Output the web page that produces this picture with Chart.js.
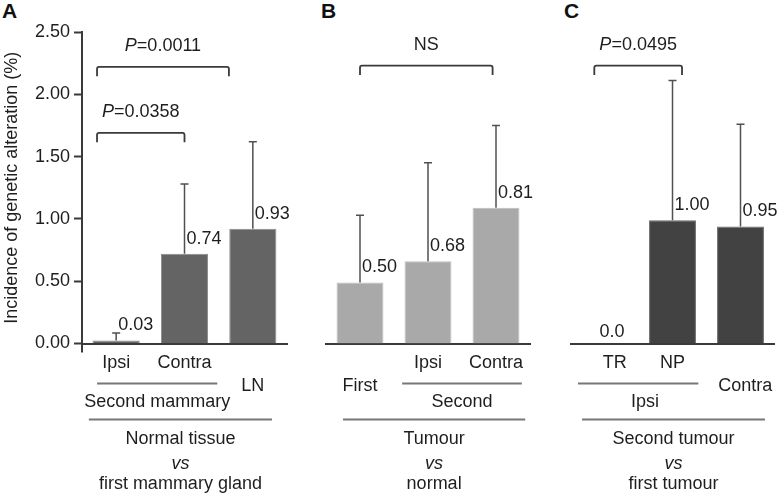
<!DOCTYPE html>
<html>
<head>
<meta charset="utf-8">
<script src="https://cdn.jsdelivr.net/npm/chart.js@4.4.1/dist/chart.umd.min.js"></script>
<style>
  body { margin: 0; background: #fff; width: 783px; height: 495px; position: relative; overflow: hidden; font-family: "Liberation Sans", Arial, sans-serif; }
  .panel { position: absolute; top: 0; height: 495px; }
  .letter { position: absolute; top: -1px; font-weight: bold; font-size: 21px; color: #111; }
</style>
</head>
<body>
<div class="letter" style="left:2px">A</div>
<div class="letter" style="left:321px">B</div>
<div class="letter" style="left:564px">C</div>
<div class="panel" style="left:0;width:292px"><canvas id="chartA"></canvas></div>
<div class="panel" style="left:292px;width:245px"><canvas id="chartB"></canvas></div>
<div class="panel" style="left:537px;width:246px"><canvas id="chartC"></canvas></div>
<script>
// 値は図から目視で読み取ったもの（棒の高さと表示ラベルは別管理）
const Y_TICKS = [0, 0.5, 1, 1.5, 2, 2.5];

const A_CATEGORIES = ['Ipsi', 'Contra', 'LN'];
const A_VALUES = [0.025, 0.72, 0.92];
const A_ERROR_TOPS = [0.085, 1.28, 1.62];
const A_LABELS = ['0.03', '0.74', '0.93'];

const B_CATEGORIES = ['First', 'Ipsi', 'Contra'];
const B_VALUES = [0.49, 0.66, 1.09];
const B_ERROR_TOPS = [1.03, 1.45, 1.75];
const B_LABELS = ['0.50', '0.68', '0.81'];

const C_CATEGORIES = ['TR', 'NP', 'Contra'];
const C_VALUES = [0, 0.99, 0.94];
const C_ERROR_TOPS = [null, 2.11, 1.76];
const C_LABELS = ['0.0', '1.00', '0.95'];

const FONT = '"Liberation Sans", Arial, sans-serif';
const FONT_SIZE = 18;
const TEXT_COLOR = '#1e1e1e';
const LINE_COLOR = '#777';

// 各パネルの注釈（ブラケット・下段ラベル）。x はカテゴリ番号基準。
// labelShift はカテゴリ名の横ずれ（元図で TR が少し右寄り）。
const PANELS = {
  A: {
    brackets: [
      { from: -0.28, to: 1.65, y: 2.22, drop: 0.075, p: true, text: '=0.0011' },
      { from: -0.28, to: 1.0, y: 1.69, drop: 0.075, p: true, text: '=0.0358' },
    ],
    topRow: [0, 1],
    midRow: [2],
    labelShift: [0, 0, 0],
    group: { from: -0.28, to: 1.48, text: 'Second mammary', shift: 0 },
    base: { from: -0.4, to: 2.28, lines: ['Normal tissue', 'vs', 'first mammary gland'] },
  },
  B: {
    brackets: [{ from: 0, to: 1.95, y: 2.23, drop: 0.075, p: false, text: 'NS' }],
    topRow: [1, 2],
    midRow: [0],
    labelShift: [0, 0, 0],
    group: { from: 0.62, to: 2.38, text: 'Second', shift: 0 },
    base: { from: -0.25, to: 2.43, lines: ['Tumour', 'vs', 'normal'] },
  },
  C: {
    brackets: [{ from: -0.15, to: 1.14, y: 2.23, drop: 0.075, p: true, text: '=0.0495' }],
    topRow: [0, 1],
    midRow: [2],
    labelShift: [0.15, 0, 0.07],
    group: { from: -0.39, to: 1.38, text: 'Ipsi', shift: 0.1 },
    base: { from: -0.33, to: 2.36, lines: ['Second tumour', 'vs', 'first tumour'] },
  },
};

function catPx(xScale, i) {
  const p0 = xScale.getPixelForTick(0);
  const p1 = xScale.getPixelForTick(1);
  return p0 + i * (p1 - p0);
}

const annotatePlugin = {
  id: 'annotate',
  afterDraw(chart, args, opts) {
    const { ctx, chartArea } = chart;
    const xs = chart.scales.x;
    const ys = chart.scales.y;
    const cfg = opts.panel;
    const bottom = chartArea.bottom;
    const regular = `${FONT_SIZE}px ${FONT}`;
    const italic = `italic ${FONT_SIZE}px ${FONT}`;
    ctx.save();

    // y軸の下への突き出し
    if (opts.showAxisStub) {
      ctx.strokeStyle = '#3a3a3a';
      ctx.lineWidth = 2;
      ctx.beginPath();
      ctx.moveTo(chartArea.left, bottom);
      ctx.lineTo(chartArea.left, bottom + 9);
      ctx.stroke();
    }

    // エラーバーと数値ラベル
    opts.errorTops.forEach((top, i) => {
      const cx = catPx(xs, i);
      const barTop = ys.getPixelForValue(opts.values[i]);
      if (top != null) {
        const ey = ys.getPixelForValue(top);
        ctx.strokeStyle = '#505050';
        ctx.lineWidth = 1.5;
        ctx.beginPath();
        ctx.moveTo(cx, barTop);
        ctx.lineTo(cx, ey);
        ctx.moveTo(cx - 4, ey);
        ctx.lineTo(cx + 4, ey);
        ctx.stroke();
      }
      ctx.fillStyle = TEXT_COLOR;
      ctx.font = regular;
      ctx.textAlign = 'left';
      ctx.textBaseline = 'alphabetic';
      const lx = top != null ? cx + 2 : cx - 5;
      const ly = top != null ? barTop - 10 : barTop - 7;
      ctx.fillText(opts.labels[i], lx, ly);
    });

    // 有意差ブラケット
    cfg.brackets.forEach((b) => {
      const x1 = catPx(xs, b.from);
      const x2 = catPx(xs, b.to);
      const y = ys.getPixelForValue(b.y);
      const y2 = ys.getPixelForValue(b.y - b.drop);
      ctx.strokeStyle = '#3a3a3a';
      ctx.lineWidth = 1.8;
      ctx.beginPath();
      ctx.moveTo(x1, y2);
      ctx.lineTo(x1, y + 2);
      ctx.quadraticCurveTo(x1, y, x1 + 2, y);
      ctx.lineTo(x2 - 2, y);
      ctx.quadraticCurveTo(x2, y, x2, y + 2);
      ctx.lineTo(x2, y2);
      ctx.stroke();

      ctx.fillStyle = TEXT_COLOR;
      ctx.textBaseline = 'alphabetic';
      ctx.textAlign = 'left';
      const mid = (x1 + x2) / 2;
      if (b.p) {
        ctx.font = italic;
        const wp = ctx.measureText('P').width;
        ctx.font = regular;
        const wt = ctx.measureText(b.text).width;
        const sx = mid - (wp + wt) / 2;
        ctx.font = italic;
        ctx.fillText('P', sx, y - 16);
        ctx.font = regular;
        ctx.fillText(b.text, sx + wp, y - 16);
      } else {
        ctx.font = regular;
        ctx.textAlign = 'center';
        ctx.fillText(b.text, mid, y - 16);
      }
    });

    // 下段のカテゴリ・グループラベル
    ctx.fillStyle = TEXT_COLOR;
    ctx.font = regular;
    ctx.textAlign = 'center';
    ctx.textBaseline = 'middle';
    cfg.topRow.forEach((i) => ctx.fillText(opts.categories[i], catPx(xs, i + cfg.labelShift[i]), bottom + 20));
    cfg.midRow.forEach((i) => ctx.fillText(opts.categories[i], catPx(xs, i + cfg.labelShift[i]), bottom + 43));

    ctx.strokeStyle = LINE_COLOR;
    ctx.lineWidth = 2;
    const g1 = catPx(xs, cfg.group.from);
    const g2 = catPx(xs, cfg.group.to);
    ctx.beginPath();
    ctx.moveTo(g1, bottom + 40);
    ctx.lineTo(g2, bottom + 40);
    ctx.stroke();
    const gm = catPx(xs, (cfg.group.from + cfg.group.to) / 2 + cfg.group.shift);
    ctx.fillText(cfg.group.text, gm, bottom + 59);

    const b1 = catPx(xs, cfg.base.from);
    const b2 = catPx(xs, cfg.base.to);
    ctx.beginPath();
    ctx.moveTo(b1, bottom + 76);
    ctx.lineTo(b2, bottom + 76);
    ctx.stroke();
    const bm = (b1 + b2) / 2;
    ctx.fillText(cfg.base.lines[0], bm, bottom + 96);
    ctx.font = italic;
    ctx.fillText(cfg.base.lines[1], bm, bottom + 120);
    ctx.font = regular;
    ctx.fillText(cfg.base.lines[2], bm, bottom + 141);

    ctx.restore();
  },
};

function makePanel(canvasId, key, categories, values, errorTops, labels, colors, padding, withYAxis) {
  const yAxis = {
    display: withYAxis,
    min: 0,
    max: 2.5,
    afterBuildTicks: (scale) => {
      scale.ticks = Y_TICKS.map((v) => ({ value: v }));
    },
    grid: {
      drawOnChartArea: false,
      drawTicks: true,
      tickLength: 8,
      tickColor: '#3a3a3a',
      tickWidth: 2,
    },
    border: { display: true, color: '#3a3a3a', width: 2 },
    ticks: {
      padding: 4,
      color: TEXT_COLOR,
      font: { family: FONT, size: FONT_SIZE },
      callback: (v) => Number(v).toFixed(2),
    },
    title: {
      display: true,
      text: 'Incidence of genetic alteration (%)',
      color: TEXT_COLOR,
      font: { family: FONT, size: FONT_SIZE },
      padding: { top: 1, bottom: 0 },
    },
  };
  if (withYAxis) {
    yAxis.afterFit = (scale) => {
      scale.width = 82;
    };
  }

  return new Chart(document.getElementById(canvasId), {
    type: 'bar',
    data: {
      labels: categories,
      datasets: [
        {
          data: values,
          backgroundColor: colors.fill,
          borderColor: colors.border,
          borderWidth: 1,
          categoryPercentage: 1,
          barPercentage: 0.69,
        },
      ],
    },
    options: {
      responsive: true,
      maintainAspectRatio: false,
      animation: false,
      layout: { padding },
      plugins: {
        legend: { display: false },
        tooltip: { enabled: false },
        annotate: {
          panel: PANELS[key],
          categories,
          values,
          errorTops,
          labels,
          showAxisStub: withYAxis,
        },
      },
      scales: {
        x: {
          grid: { display: false },
          border: { display: true, color: '#3a3a3a', width: 2 },
          ticks: { display: false },
          afterFit: (scale) => {
            scale.height = 0;
          },
        },
        y: yAxis,
      },
    },
    plugins: [annotatePlugin],
  });
}

makePanel('chartA', 'A', A_CATEGORIES, A_VALUES, A_ERROR_TOPS, A_LABELS,
  { fill: '#646464', border: '#8a8a8a' },
  { left: 0, right: 5, top: 32, bottom: 151.5 }, true);
makePanel('chartB', 'B', B_CATEGORIES, B_VALUES, B_ERROR_TOPS, B_LABELS,
  { fill: '#a9a9a9', border: '#bdbdbd' },
  { left: 34, right: 7, top: 32, bottom: 151.5 }, false);
makePanel('chartC', 'C', C_CATEGORIES, C_VALUES, C_ERROR_TOPS, C_LABELS,
  { fill: '#424242', border: '#6a6a6a' },
  { left: 33.5, right: 8.5, top: 32, bottom: 151.5 }, false);
</script>
</body>
</html>
